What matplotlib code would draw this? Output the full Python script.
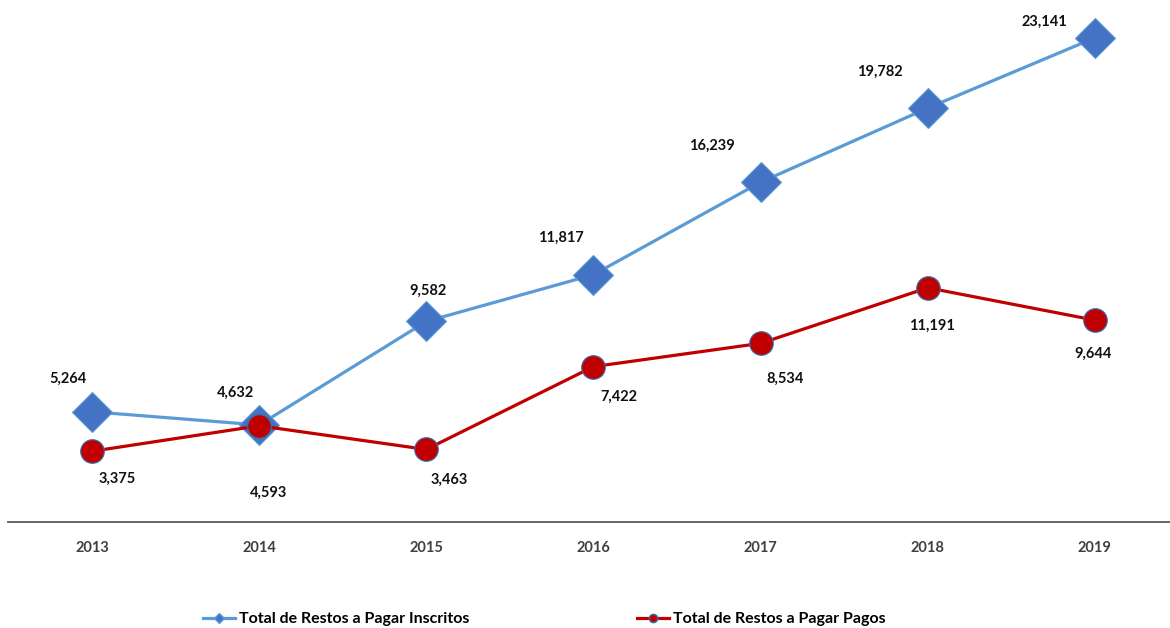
import matplotlib
matplotlib.use("Agg")
import matplotlib.pyplot as plt
from matplotlib.lines import Line2D

years = ['2013', '2014', '2015', '2016', '2017', '2018', '2019']
inscritos = [5264, 4632, 9582, 11817, 16239, 19782, 23141]
pagos = [3375, 4593, 3463, 7422, 8534, 11191, 9644]

# deslocamento dos rótulos (pixels)
off_insc = [(-24, 33), (-24, 32), (2, 31), (-33, 37), (-49, 36), (-48, 36), (-50, 16)]
off_pago = [(25, -28), (9, -67), (23, -30), (25, -30), (24, -35), (4, -38), (-2, -34)]

plt.rcParams['font.family'] = ['Lato', 'DejaVu Sans']

fig = plt.figure(figsize=(11.7, 6.28), dpi=100)
ax = fig.add_axes([0.0072, 0.169, 1.0, 0.831])

x = range(len(years))
ax.plot(x, inscritos, color='#5B9BD5', lw=2.3, marker='D', ms=20,
        mfc='#4472C4', mec='#5B9BD5', mew=0.8, zorder=3)
ax.plot(x, pagos, color='#C00000', lw=2.3, marker='o', ms=17,
        mfc='#C00000', mec='#2E75B6', mew=0.8, zorder=4)

for i, v in enumerate(inscritos):
    ax.annotate(f'{v:,}', (i, v), xytext=off_insc[i], textcoords='offset pixels',
                ha='center', va='center', fontsize=10.5, fontweight='bold', color='#111111')
for i, v in enumerate(pagos):
    ax.annotate(f'{v:,}', (i, v), xytext=off_pago[i], textcoords='offset pixels',
                ha='center', va='center', fontsize=10.5, fontweight='bold', color='#111111')

ax.set_xlim(-0.5, 6.5)
ax.set_ylim(0, 24950)
ax.set_xticks(list(x))
ax.set_xticklabels(years, fontsize=10.5, fontweight='bold', color='#404040')
ax.tick_params(axis='x', length=0, pad=14)
ax.set_yticks([])
for s in ['top', 'right', 'left']:
    ax.spines[s].set_visible(False)
ax.spines['bottom'].set_color('#595959')
ax.spines['bottom'].set_linewidth(1.3)

h1 = Line2D([], [], color='#5B9BD5', lw=2.3, marker='D', ms=5, mfc='#4472C4', mec='#5B9BD5')
h2 = Line2D([], [], color='#C00000', lw=2.3, marker='o', ms=6, mfc='#C00000', mec='#2E75B6')
fig.legend([h1, h2], ['Total de Restos a Pagar Inscritos', 'Total de Restos a Pagar Pagos'],
           loc='center', bbox_to_anchor=(0.465, 0.014), ncol=2, frameon=False,
           handlelength=2.0, handletextpad=0.25, columnspacing=10.5,
           prop={'size': 11.5, 'weight': 'bold'})

fig.savefig('out.png', dpi=100)
